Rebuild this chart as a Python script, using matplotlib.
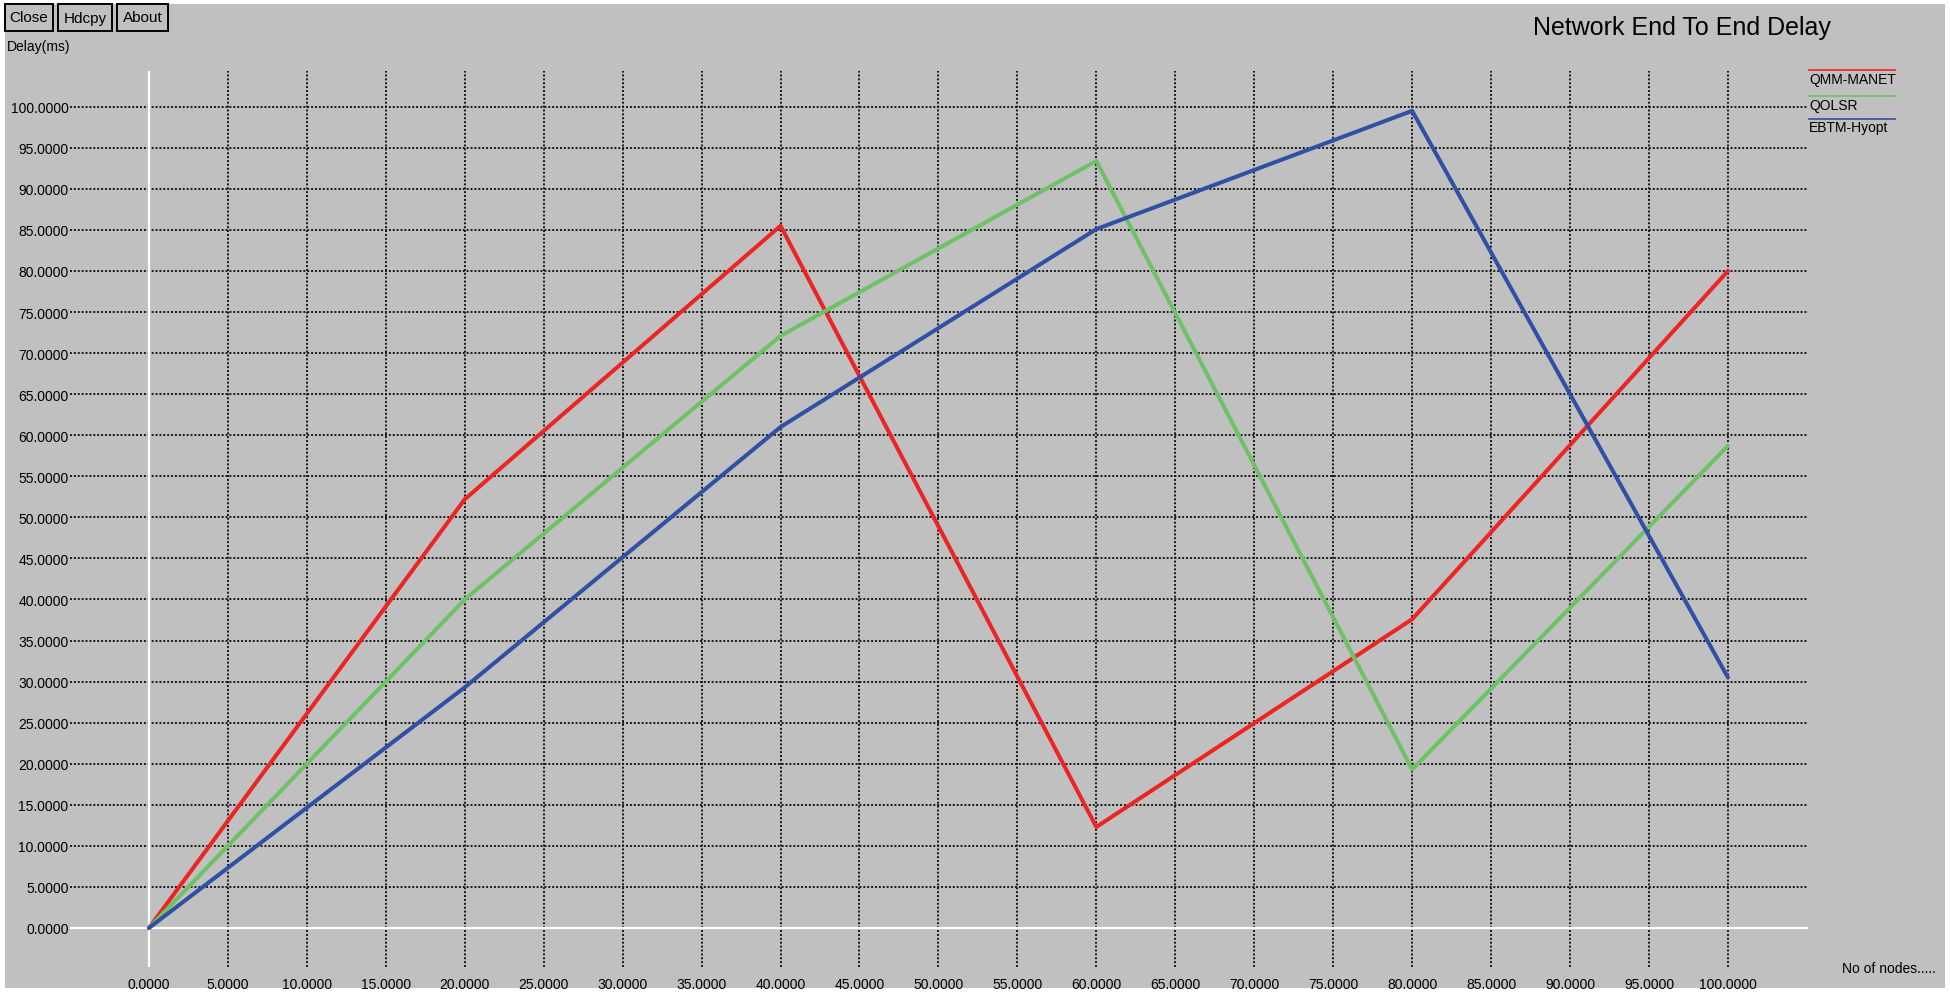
import matplotlib
matplotlib.use("Agg")
import matplotlib.pyplot as plt
from matplotlib.patches import Rectangle
from matplotlib.lines import Line2D

# data
nodes = [0, 20, 40, 60, 80, 100]
qmm_manet = [0, 52.2, 85.5, 12.3, 37.6, 80.0]
qolsr = [0, 40.0, 72.1, 93.4, 19.3, 58.7]
ebtm_hyopt = [0, 29.3, 61.0, 85.1, 99.5, 30.5]

series_labels = ["QMM-MANET", "QOLSR", "EBTM-Hyopt"]
series_colors = ["#ec2424", "#6cc264", "#3050a4"]
tick_values = [i * 5 for i in range(21)]

W, H = 1950, 995
GRAY = "#c0c0c0"
FONT = "Liberation Sans"

plt.rcParams["font.family"] = [FONT, "DejaVu Sans"]

fig = plt.figure(figsize=(W / 100, H / 100), dpi=100, facecolor="white")


def fx(px):
    return px / W


def fy(py):
    return 1 - py / H


# gray window background
fig.add_artist(Rectangle((fx(5), fy(989)), fx(1945) - fx(5), fy(5) - fy(989),
                         transform=fig.transFigure, facecolor=GRAY,
                         edgecolor="none", zorder=0))

ax = fig.add_axes([fx(70), fy(968), fx(1808) - fx(70), fy(72) - fy(968)])
ax.set_facecolor(GRAY)
ax.patch.set_alpha(0)
for s in ax.spines.values():
    s.set_visible(False)

ax.set_xlim(-5.0, 105.07)
ax.set_ylim(-4.75, 104.35)

ax.set_xticks(tick_values)
ax.set_yticks(tick_values)
ax.set_xticklabels([f"{v:.4f}" for v in tick_values])
ax.set_yticklabels([f"{v:.4f}" for v in tick_values])
ax.tick_params(axis="both", length=0, labelsize=10, colors="black")
ax.tick_params(axis="x", pad=7)
ax.tick_params(axis="y", pad=1)

ax.grid(True, color="#181818", linestyle=(0, (1, 1)), linewidth=1.4, zorder=1)
ax.set_axisbelow(True)
ax.axvline(0, color="white", linewidth=1.6, zorder=2)
ax.axhline(0, color="white", linewidth=1.6, zorder=2)

for vals, c in zip([qmm_manet, qolsr, ebtm_hyopt], series_colors):
    ax.plot(nodes, vals, color=c, linewidth=2.9, zorder=3, solid_capstyle="round")

# legend (xgraph style: line above each label)
leg_line_y = [71, 97, 120]
leg_text_y = [80, 106, 128]
for lab, c, ly, ty in zip(series_labels, series_colors, leg_line_y, leg_text_y):
    fig.add_artist(Line2D([fx(1809), fx(1895)], [fy(ly), fy(ly)],
                          transform=fig.transFigure, color=c, linewidth=1.2))
    fig.text(fx(1809), fy(ty), lab, fontsize=10, ha="left", va="center")

fig.text(fx(1533), fy(28), "Network End To End Delay", fontsize=18,
         ha="left", va="center")
fig.text(fx(7), fy(47), "Delay(ms)", fontsize=10, ha="left", va="center")
fig.text(fx(1842), fy(969), "No of nodes.....", fontsize=10, ha="left",
         va="center")

# buttons
buttons = [("Close", 5, 53), ("Hdcpy", 58, 112), ("About", 117, 168)]
for name, x0, x1 in buttons:
    fig.add_artist(Rectangle((fx(x0), fy(32)), fx(x1) - fx(x0), fy(5) - fy(32),
                             transform=fig.transFigure, facecolor="none",
                             edgecolor="black", linewidth=1.4))
    fig.text(fx((x0 + x1) / 2), fy(18.5), name, fontsize=11, ha="center",
             va="center")

fig.savefig("out.png", dpi=100, facecolor="white")
